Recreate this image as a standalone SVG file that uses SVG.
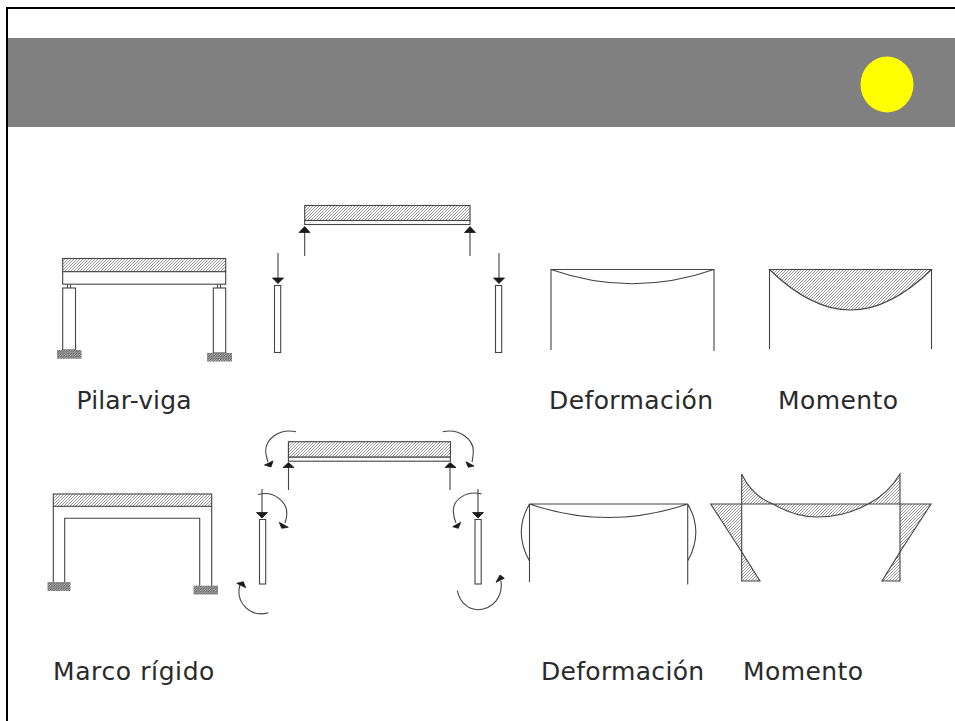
<svg xmlns="http://www.w3.org/2000/svg" width="955" height="721" viewBox="0 0 955 721">
<style>
.l{fill:none;stroke:#444;stroke-width:1.100}
.h{fill:url(#hatch);stroke:#444;stroke-width:1.100}
.w{fill:#fff;stroke:#444;stroke-width:1.100}
.f{fill:url(#foot);stroke:none}
.a{fill:#1a1a1a;stroke:#1a1a1a;stroke-width:.8;stroke-linejoin:round}
text{font-family:"DejaVu Sans",sans-serif;font-size:25px;fill:#2a2a2a}
</style>
<defs>
<pattern id="hatch" width="3" height="3" patternUnits="userSpaceOnUse"><rect width="3" height="3" fill="#fff"/><path d="M-1,4L4,-1M-1,1L1,-1M2,4L4,2" stroke="#8c8c8c" stroke-width=".9" fill="none"/></pattern>
<pattern id="foot" width="2.500" height="2.500" patternUnits="userSpaceOnUse"><rect width="2.500" height="2.500" fill="#c4c4c4"/><path d="M-1,3.500L3.500,-1" stroke="#555" stroke-width="1.100" fill="none"/></pattern>
</defs>
<rect width="955" height="721" fill="#fff"/>
<rect id="banner" x="8" y="38" width="947" height="89" fill="#808080"/>
<path id="border" d="M7,721V8H955" fill="none" stroke="#000" stroke-width="2"/>
<ellipse id="sun" cx="887" cy="84.500" rx="26.500" ry="28" fill="#ff0"/>
<g id="frame-pilar-viga">
<rect class="h" x="62.700" y="258.500" width="163" height="13.200"/>
<rect class="w" x="62.700" y="271.700" width="163" height="12.500"/>
<path class="l" d="M67.500,284.500V288M70.500,284.500V288M217.500,284.500V288M220.500,284.500V288"/>
<rect class="w" x="62.700" y="288" width="12.800" height="62"/>
<rect class="w" x="213.300" y="288" width="12.400" height="65"/>
<rect class="f" x="57" y="350" width="24.500" height="8.700"/>
<rect class="f" x="207" y="353" width="25" height="8.500"/>
</g>
<g id="beam-1">
<rect class="h" x="304.700" y="205.500" width="165.300" height="15"/>
<rect class="w" x="304.700" y="220.500" width="165.300" height="4"/>
</g>
<g id="col-1a"><rect class="w" x="274.500" y="285.500" width="6.200" height="67"/></g>
<g id="col-1b"><rect class="w" x="495.500" y="285.500" width="6.200" height="67"/></g>
<g id="def-1"><path class="l" d="M551,350V269.500H714V351M551,269.500Q632,298 714,269.500"/></g>
<g id="mom-1"><path class="h" d="M769.500,269.500H931.500Q890,310 850.500,310Q811,310 769.500,269.500Z"/><path class="l" d="M769.500,269.500V349M931.500,269.500V349"/></g>
<g id="frame-marco">
<rect class="h" x="53.300" y="494" width="158.400" height="12.300"/>
<path class="l" d="M53.300,506.300V583M211.700,506.300V586M64.700,583V518.300H199.700V586"/>
<rect class="f" x="47.500" y="582" width="23" height="9"/>
<rect class="f" x="193.500" y="585.700" width="24.500" height="8.800"/>
</g>
<g id="beam-2">
<rect class="h" x="288.400" y="441.700" width="162" height="15.500"/>
<rect class="w" x="288.400" y="457.200" width="162" height="4"/>
</g>
<g id="col-2a"><rect class="w" x="259.500" y="519.500" width="6.200" height="64.500"/></g>
<g id="col-2b"><rect class="w" x="475" y="519.500" width="6.200" height="64.500"/></g>
<g id="def-2"><path class="l" d="M529.500,582V504H687.700V584.500M529.500,504Q608,531 687.700,504M529.500,504Q513,532 529.500,561M687.700,504Q704,532 687.700,561"/></g>
<g id="mom-2">
<path class="h" d="M741.700,474Q752,496 773,504H741.700Z"/>
<path class="h" d="M900,474Q888,494 868,504H900Z"/>
<path class="h" d="M773,504H868Q845,517 817,517Q795,517 773,504Z"/>
<path class="h" d="M710.700,504H741.700V552Z"/>
<path class="h" d="M741.700,552V581H760Z"/>
<path class="h" d="M931,504H900V552Z"/>
<path class="h" d="M900,552V581H882Z"/>
</g>
<g id="connectors">
<path class="l" d="M278,253V279M499,253V279M304.700,256V232M470,256V232M288.500,490V468M450,490V468M262,489V513M478,489V513"/>
<path class="a" d="M272.500,278H283.500L278,283.500ZM493.500,278H504.500L499,283.500ZM299,232.500H310L304.700,226.500ZM464.500,232.500H475.500L470,226.500ZM283,467.500H294L288.500,462.500ZM445,467.500H456L450,462.500ZM256.500,512.500H267.500L262,518ZM472.500,512.500H483.500L478,518Z"/>
<path class="l" d="M296,431.700C278,428 265,440 265.700,452C266,456 267,459 268,462M442.700,431.700C460,428 474,440 473.300,452C473,456 472.800,459 472,462M258,494.500C275,490 288,503 286.700,515C286.500,518 286,520 285,523M481.700,494C466,490 453,500 453.300,511C453.500,516 454,519 456,523M268.300,612.700C250,618 235,602 240,585M457.300,590.700C460,604 470,609.700 478,609.700C493,609 503,597 501,581"/>
<path class="a" d="M264.500,465L273,461L271,467ZM466,461.700L474,466L468.300,467.300ZM279.300,522.300L288.300,527.300L281.700,528.300ZM452.700,526.700L460.700,522.300L458.300,528.300ZM236.700,583.300L243.300,581.700L245.700,587.700ZM496,582.300L500,575L504.300,578.300Z"/>
</g>
<text x="76.500" y="408.500" letter-spacing=".15">Pilar-viga</text>
<text x="549" y="408.500" letter-spacing=".4">Deformación</text>
<text x="778" y="408.500" letter-spacing=".4">Momento</text>
<text x="53" y="679.500" letter-spacing=".6">Marco rígido</text>
<text x="541" y="679.500" letter-spacing=".3">Deformación</text>
<text x="743" y="679.500" letter-spacing=".4">Momento</text>
</svg>
